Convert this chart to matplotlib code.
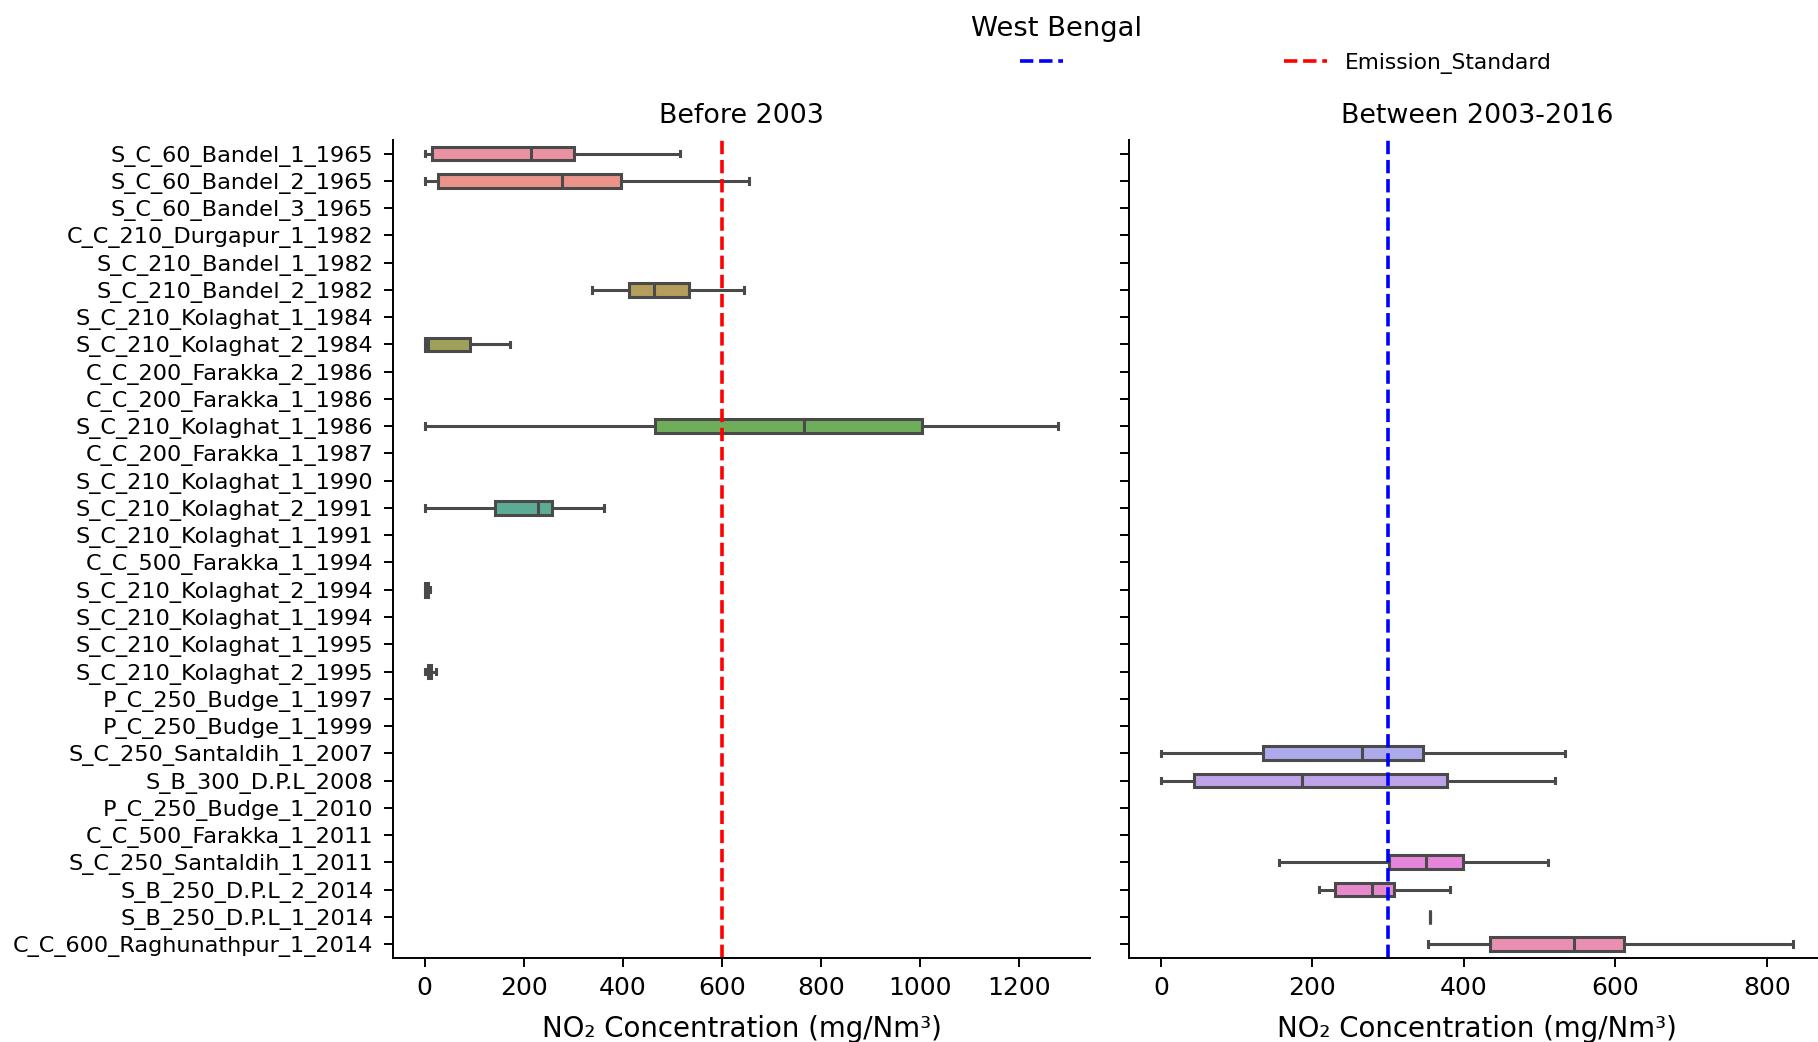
import matplotlib
matplotlib.use("Agg")
import matplotlib.pyplot as plt
import seaborn as sns
from matplotlib.lines import Line2D

# ---------------- data ----------------
categories = [
    "S_C_60_Bandel_1_1965", "S_C_60_Bandel_2_1965", "S_C_60_Bandel_3_1965",
    "C_C_210_Durgapur_1_1982", "S_C_210_Bandel_1_1982", "S_C_210_Bandel_2_1982",
    "S_C_210_Kolaghat_1_1984", "S_C_210_Kolaghat_2_1984", "C_C_200_Farakka_2_1986",
    "C_C_200_Farakka_1_1986", "S_C_210_Kolaghat_1_1986", "C_C_200_Farakka_1_1987",
    "S_C_210_Kolaghat_1_1990", "S_C_210_Kolaghat_2_1991", "S_C_210_Kolaghat_1_1991",
    "C_C_500_Farakka_1_1994", "S_C_210_Kolaghat_2_1994", "S_C_210_Kolaghat_1_1994",
    "S_C_210_Kolaghat_1_1995", "S_C_210_Kolaghat_2_1995", "P_C_250_Budge_1_1997",
    "P_C_250_Budge_1_1999", "S_C_250_Santaldih_1_2007", "S_B_300_D.P.L_2008",
    "P_C_250_Budge_1_2010", "C_C_500_Farakka_1_2011", "S_C_250_Santaldih_1_2011",
    "S_B_250_D.P.L_2_2014", "S_B_250_D.P.L_1_2014", "C_C_600_Raghunathpur_1_2014",
]

before_units = ["S_C_60_Bandel_1_1965", "S_C_60_Bandel_2_1965", "S_C_210_Bandel_2_1982",
                "S_C_210_Kolaghat_2_1984", "S_C_210_Kolaghat_1_1986", "S_C_210_Kolaghat_2_1991",
                "S_C_210_Kolaghat_2_1994", "S_C_210_Kolaghat_2_1995"]
before_min = [0, 0, 337, 0, 1, 0, 0, 0]
before_q1 = [15, 27, 412, 0, 465, 141, 0, 7]
before_med = [215, 277, 462, 7, 765, 228, 2, 9]
before_q3 = [302, 396, 533, 92, 1003, 258, 6, 12]
before_max = [515, 655, 645, 173, 1279, 362, 11, 22]

between_units = ["S_C_250_Santaldih_1_2007", "S_B_300_D.P.L_2008", "S_C_250_Santaldih_1_2011",
                 "S_B_250_D.P.L_2_2014", "S_B_250_D.P.L_1_2014", "C_C_600_Raghunathpur_1_2014"]
between_min = [0, 0, 156, 209, 355, 352]
between_q1 = [135, 44, 301, 230, 355, 434]
between_med = [266, 186, 350, 279, 355, 546]
between_q3 = [346, 378, 399, 308, 355, 612]
between_max = [533, 520, 511, 382, 355, 835]

panel_titles = ["Before 2003", "Between 2003-2016"]
standards = [600, 300]
standard_colors = ["red", "blue"]
legend_labels = ["", "Emission_Standard"]
suptitle = "West Bengal"
xlabel = "NO\u2082 Concentration (mg/Nm\u00b3)"

# ---------------- style ----------------
W, H = 1818, 1042
LINE = "#4a4a4a"
LW = 2.2
palette = []
for c in sns.husl_palette(len(categories)):
    r, g, b = sns.desaturate(c, 0.75)
    palette.append(tuple(v + (1 - v) * 0.13 for v in (r, g, b)))

fig = plt.figure(figsize=(W / 100, H / 100), dpi=100)
bottom = 1 - 957.7 / H
height = 817.7 / H
ax1 = fig.add_axes([393 / W, bottom, 697 / W, height])
ax2 = fig.add_axes([1129.3 / W, bottom, 695.7 / W, height], sharey=ax1)


def draw(ax, units, mins, q1s, meds, q3s, maxs):
    stats = []
    pos = []
    for u, a, b, c, d, e in zip(units, mins, q1s, meds, q3s, maxs):
        stats.append(dict(label=u, whislo=a, q1=b, med=c, q3=d, whishi=e, fliers=[]))
        pos.append(categories.index(u))
    res = ax.bxp(stats, positions=pos, widths=0.5, orientation="horizontal",
                 patch_artist=True, showfliers=False, manage_ticks=False,
                 capwidths=0.2,
                 boxprops=dict(edgecolor=LINE, linewidth=LW),
                 whiskerprops=dict(color=LINE, linewidth=LW),
                 capprops=dict(color=LINE, linewidth=LW),
                 medianprops=dict(color=LINE, linewidth=LW))
    for patch, p in zip(res["boxes"], pos):
        patch.set_facecolor(palette[p])


draw(ax1, before_units, before_min, before_q1, before_med, before_q3, before_max)
draw(ax2, between_units, between_min, between_q1, between_med, between_q3, between_max)

for ax, title, std, col in zip([ax1, ax2], panel_titles, standards, standard_colors):
    ax.axvline(std, color=col, linestyle="--", linewidth=2.6)
    ax.set_title(title, fontsize=19.4, pad=12)
    ax.set_xlabel(xlabel, fontsize=19.9, labelpad=11)
    ax.spines["top"].set_visible(False)
    ax.spines["right"].set_visible(False)
    for s in ("left", "bottom"):
        ax.spines[s].set_linewidth(1.4)
    ax.tick_params(axis="both", length=6.7, width=1.4)
    ax.tick_params(axis="x", labelsize=18, pad=6.5)
    ax.tick_params(axis="y", labelsize=16.1, pad=7.5)
    ax.margins(x=0.05)
    ax.autoscale_view()

ax1.set_xticks(range(0, 1201, 200))
ax2.set_xticks(range(0, 801, 200))
ax1.set_yticks(range(len(categories)))
ax1.set_yticklabels(categories)
ax1.set_ylim(len(categories) - 0.5, -0.5)
ax2.tick_params(axis="y", labelleft=False)

fig.text(1057 / W, 1 - 29 / H, suptitle, ha="center", va="center", fontsize=19.7)
handles = [Line2D([], [], color=c, linestyle="--", linewidth=2.6) for c in standard_colors[::-1]]
fig.legend(handles, legend_labels, loc="center left", bbox_to_anchor=(1011 / W, 1 - 63 / H),
           ncol=2, frameon=False, fontsize=15.7, columnspacing=9.3, borderaxespad=0)

fig.savefig("out.png", dpi=100)
